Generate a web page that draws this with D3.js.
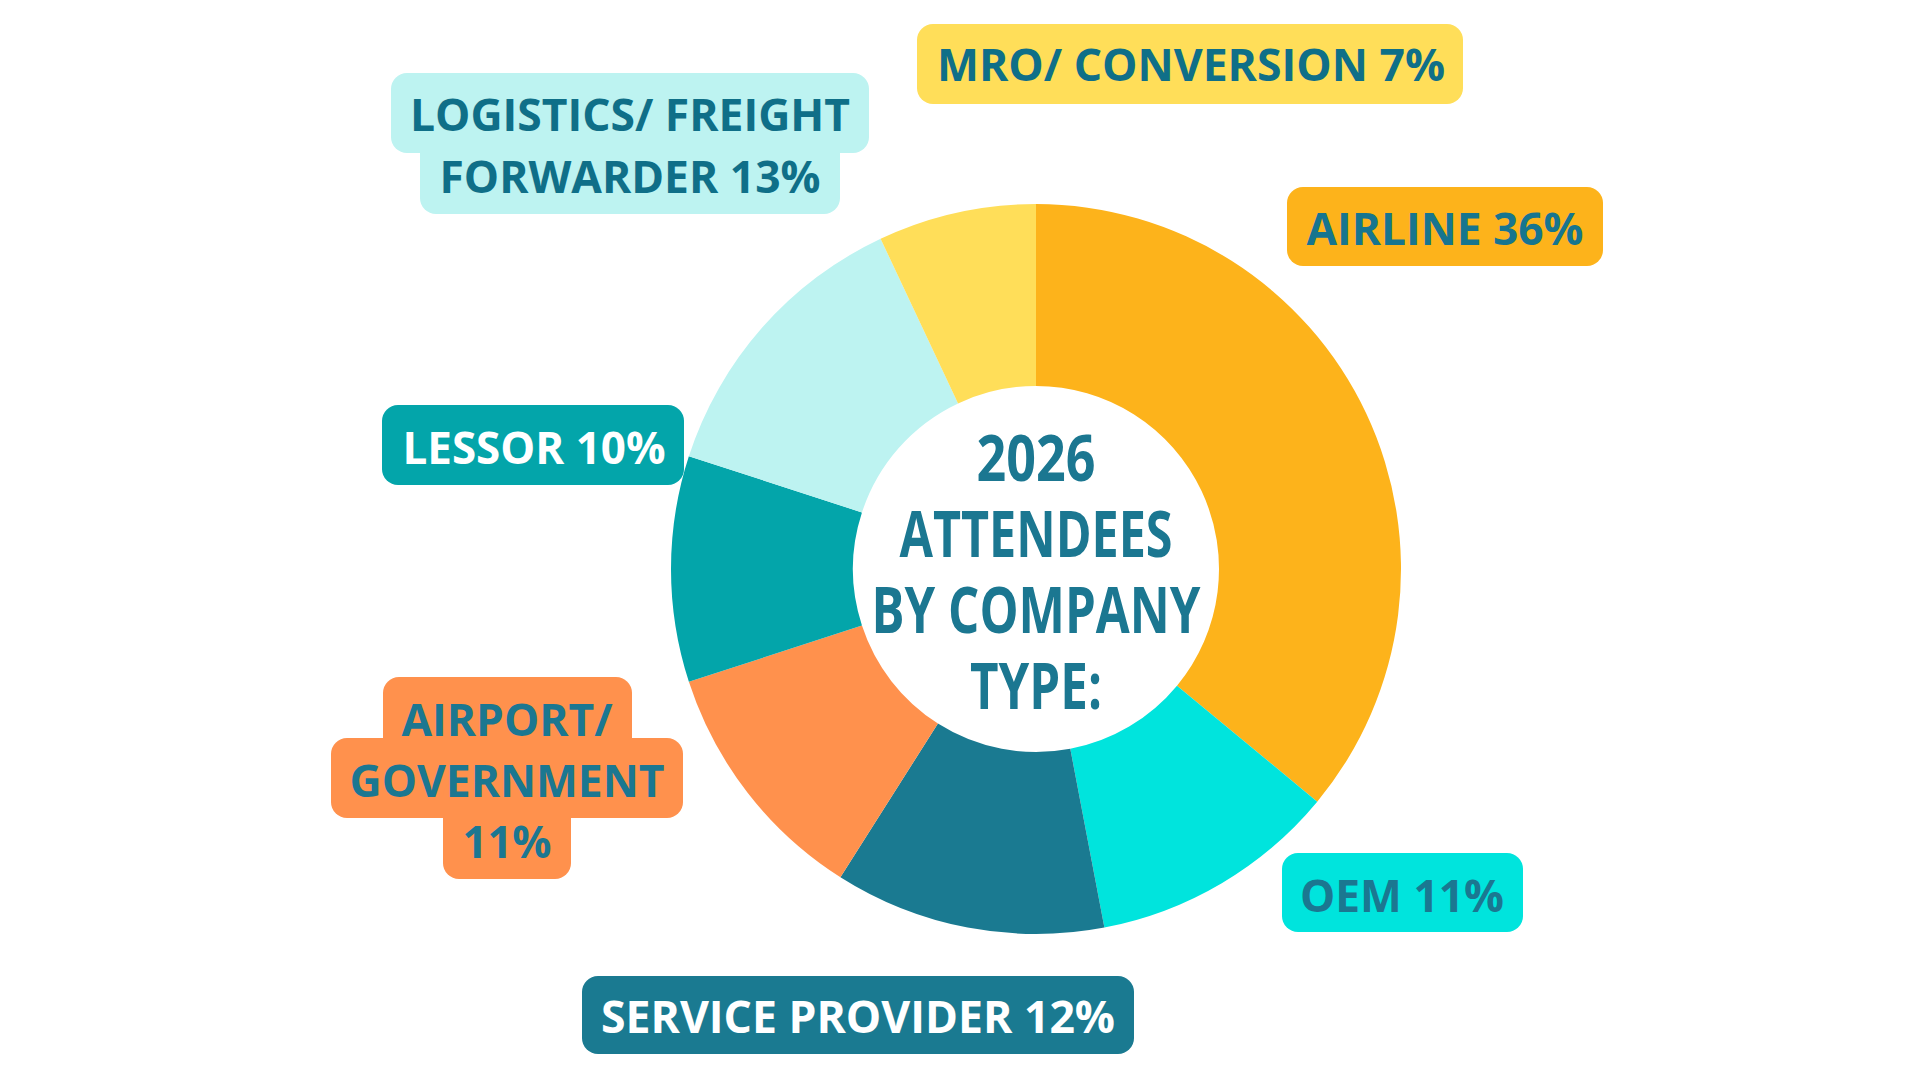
<!DOCTYPE html>
<html>
<head>
<meta charset="utf-8">
<script src="https://cdn.jsdelivr.net/npm/d3@7"></script>
<style>
  html, body { margin: 0; padding: 0; background: #ffffff; }
  svg { display: block; }
  text { font-family: "Open Sans", "DejaVu Sans", sans-serif; font-weight: 700; }
</style>
</head>
<body>
<svg width="1920" height="1080"></svg>
<script>
  // data, clockwise from 12 o'clock
  const categories = ["AIRLINE", "OEM", "SERVICE PROVIDER", "AIRPORT/ GOVERNMENT", "LESSOR", "LOGISTICS/ FREIGHT FORWARDER", "MRO/ CONVERSION"];
  const shares = [36, 11, 12, 11, 10, 13, 7];
  const colors = ["#FDB31B", "#00E4DD", "#1A7A91", "#FF914D", "#03A5AA", "#BDF3F1", "#FFDE59"];
  const titleLines = ["2026", "ATTENDEES", "BY COMPANY", "TYPE:"];

  // label callout layout (boxes, line breaks by word count, baselines, text widths)
  const labelLayout = [
    { boxes: [[1287, 187, 316, 79]], cx: 1445, breaks: [3], baselines: [245], widths: [277], fill: "#17758F" },
    { boxes: [[1282, 853, 241, 79]], cx: 1402, breaks: [2], baselines: [912], widths: [204], fill: "#1B7791" },
    { boxes: [[582, 976, 552, 78]], cx: 858, breaks: [3], baselines: [1033], widths: [514], fill: "#ffffff" },
    { boxes: [[383, 677, 249, 100], [331, 738, 352, 80], [443, 780, 128, 99]], cx: 507, breaks: [1, 1, 1], baselines: [736, 797, 858], widths: [211, 315, 89], fill: "#1B7791" },
    { boxes: [[382, 405, 302, 80]], cx: 534, breaks: [2], baselines: [464], widths: [263], fill: "#ffffff" },
    { boxes: [[391, 73, 478, 80], [420, 120, 420, 94]], cx: 630, breaks: [2, 2], baselines: [131, 193], widths: [440, 381], fill: "#0F6F88" },
    { boxes: [[917, 24, 546, 80]], cx: 1191, breaks: [3], baselines: [81], widths: [508], fill: "#0F6F88" }
  ];

  const svg = d3.select("svg");
  const cx = 1036;
  const cy = 569;
  const outerRadius = 365;
  const innerRadius = 183;

  const pie = d3.pie().sort(null).value(d => d);
  const arcs = pie(shares);
  const arc = d3.arc().innerRadius(innerRadius).outerRadius(outerRadius);

  const g = svg.append("g").attr("transform", `translate(${cx},${cy})`);

  g.selectAll("path")
    .data(arcs)
    .join("path")
    .attr("d", arc)
    .attr("fill", (d, i) => colors[i]);

  // centre title
  titleLines.forEach((line, i) => {
    const widths = [119, 273, 329, 132];
    g.append("text")
      .attr("x", 0)
      .attr("y", -88 + i * 76)
      .attr("text-anchor", "middle")
      .attr("font-size", 64)
      .attr("fill", "#1B7791")
      .attr("textLength", widths[i])
      .attr("lengthAdjust", "spacingAndGlyphs")
      .text(line);
  });

  // callouts
  const labels = svg.append("g");
  categories.forEach((name, i) => {
    const lay = labelLayout[i];
    const lg = labels.append("g");
    lay.boxes.forEach(b => {
      lg.append("rect")
        .attr("x", b[0]).attr("y", b[1])
        .attr("width", b[2]).attr("height", b[3])
        .attr("rx", 16).attr("ry", 16)
        .attr("fill", colors[i]);
    });
    const words = `${name} ${shares[i]}%`.split(" ");
    let k = 0;
    lay.breaks.forEach((n, j) => {
      const line = words.slice(k, k + n).join(" ");
      k += n;
      lg.append("text")
        .attr("x", lay.cx)
        .attr("y", lay.baselines[j])
        .attr("text-anchor", "middle")
        .attr("font-size", 45)
        .attr("fill", lay.fill)
        .attr("textLength", lay.widths[j])
        .attr("lengthAdjust", "spacingAndGlyphs")
        .text(line);
    });
  });
</script>
</body>
</html>
